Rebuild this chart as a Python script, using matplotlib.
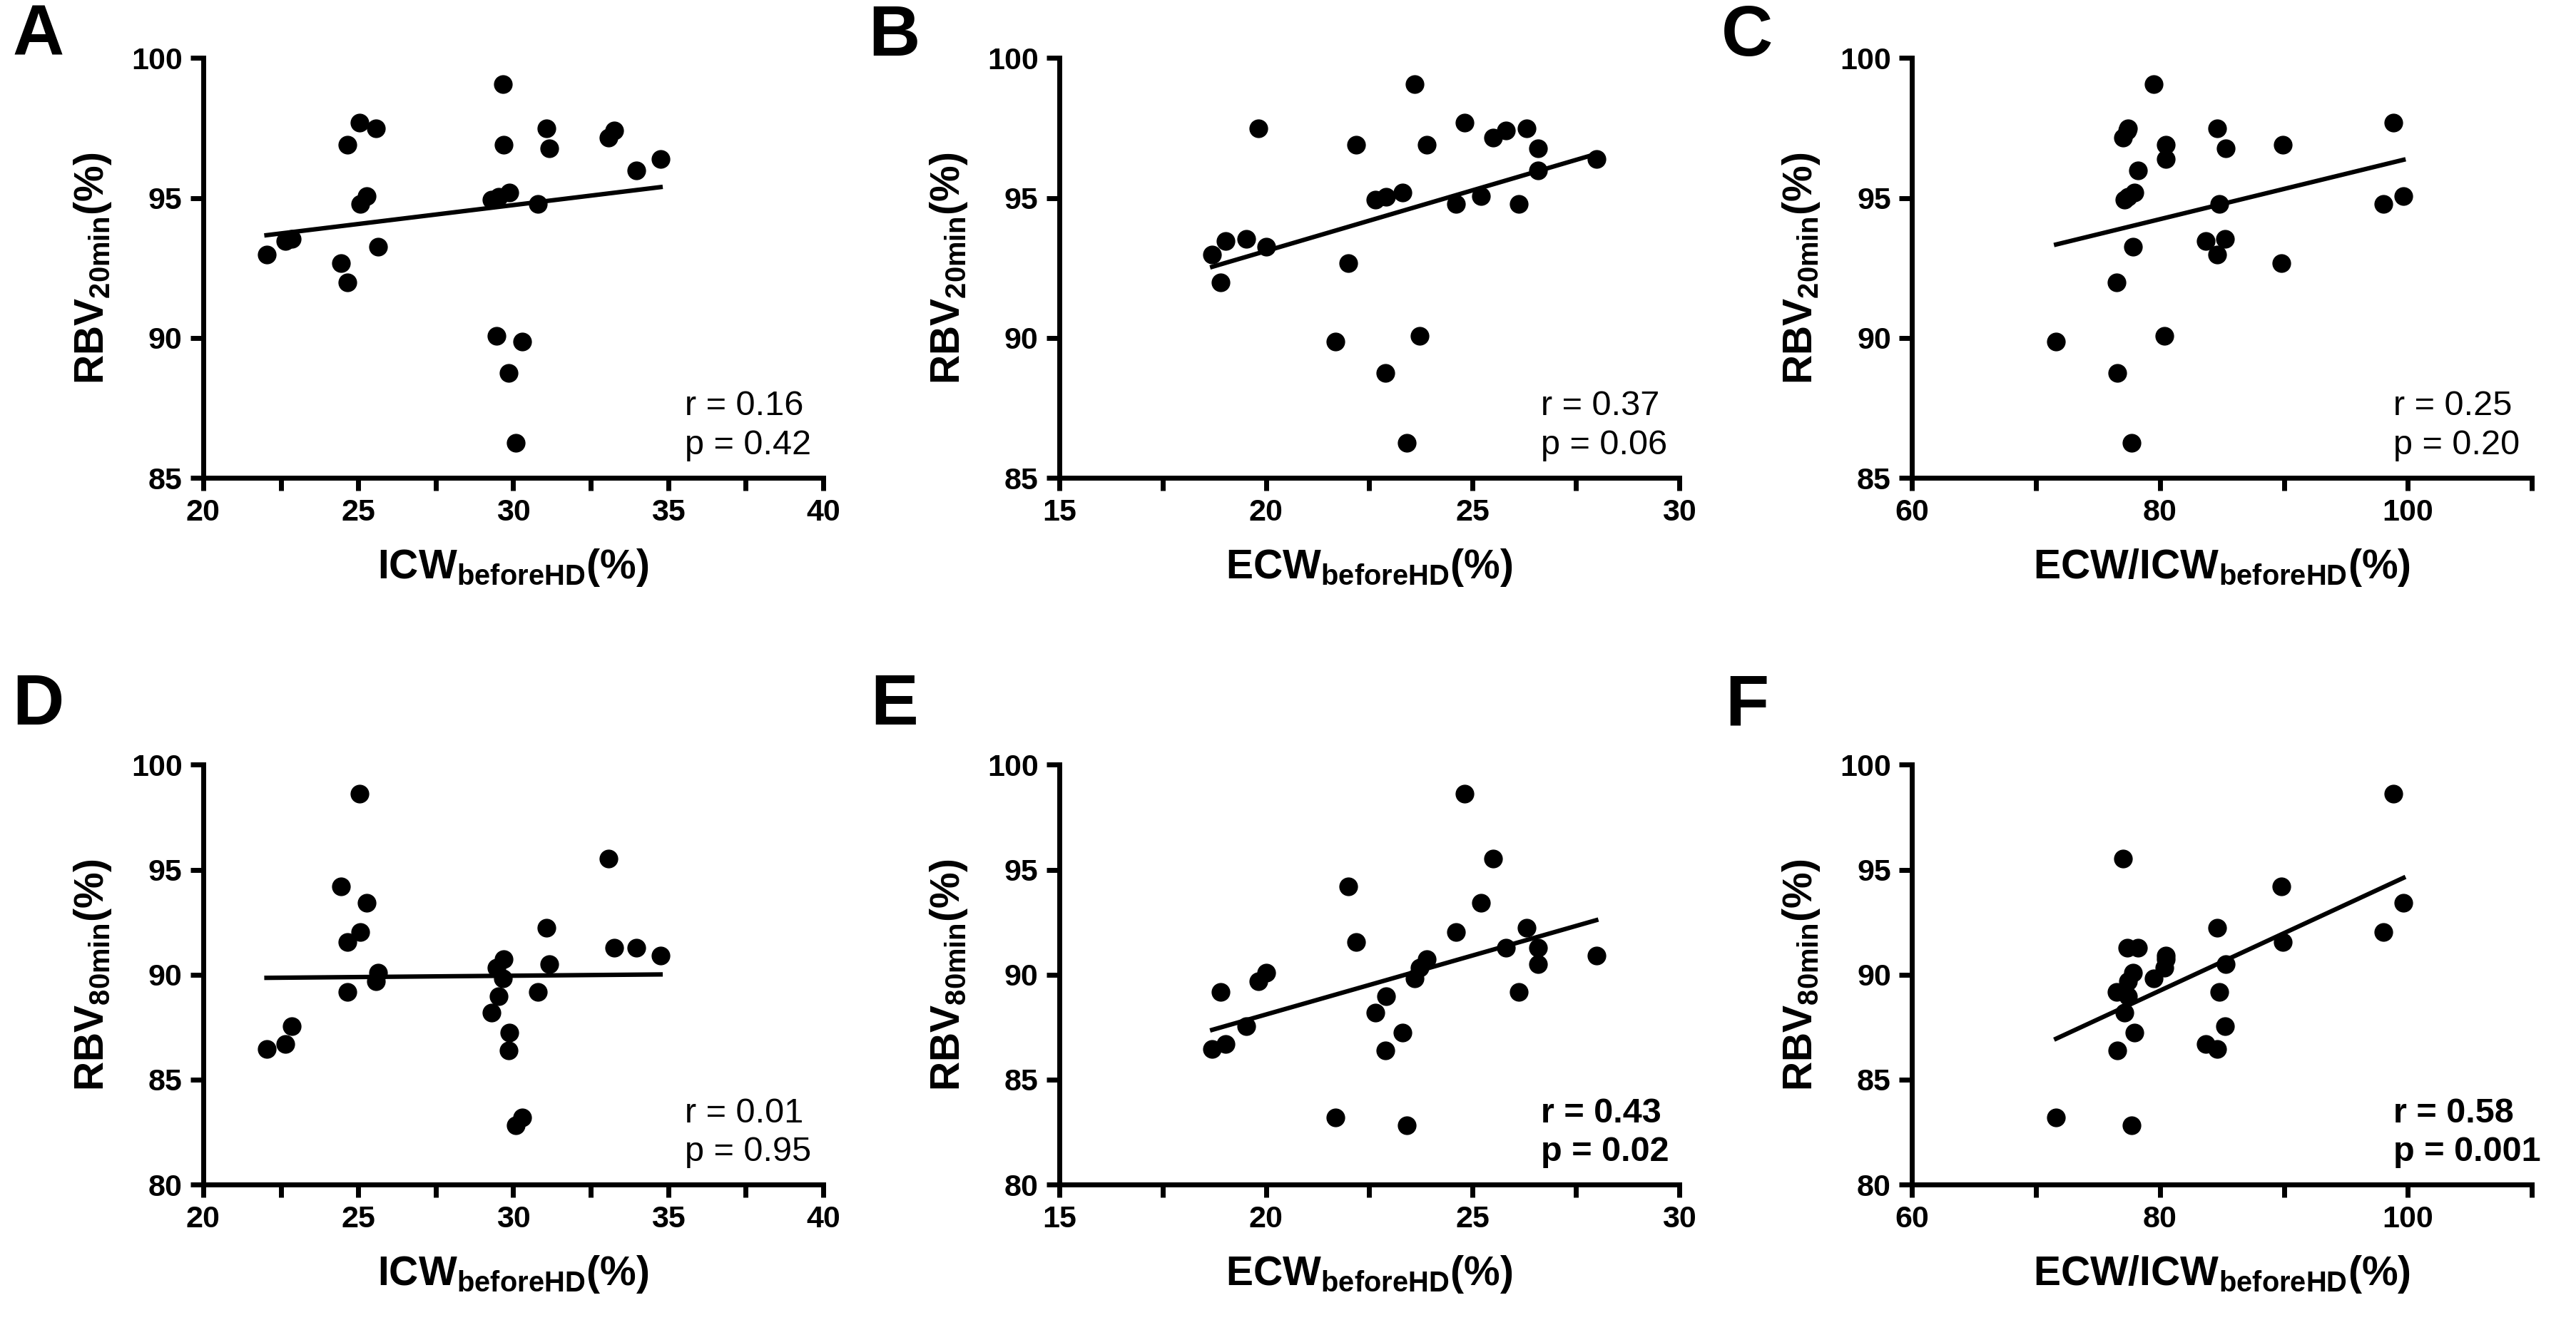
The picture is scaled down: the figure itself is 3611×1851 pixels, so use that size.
import numpy as np
import matplotlib
matplotlib.use('Agg')
import matplotlib.pyplot as plt

# one entry per patient
icw = [22.04, 22.64, 22.85, 24.45, 24.65, 24.65, 25.05, 25.56, 25.07, 25.28,
       25.65, 29.67, 29.68, 29.30, 29.52, 29.88, 29.47, 30.28, 29.86, 30.07,
       30.79, 31.06, 31.16, 33.08, 33.26, 33.96, 34.75]
ecw = [18.70, 19.02, 19.52, 22.00, 18.91, 22.19, 24.81, 19.81, 24.60, 25.21,
       20.01, 23.59, 23.89, 22.64, 22.90, 23.31, 23.72, 21.69, 22.89, 23.41,
       26.11, 26.30, 26.59, 25.49, 25.80, 26.59, 27.99]
ratio = [84.63, 83.70, 85.26, 89.80, 76.53, 89.89, 98.84, 77.40, 98.04, 99.64,
         77.82, 79.47, 80.49, 77.15, 77.42, 77.95, 80.36, 71.63, 76.57, 77.73,
         84.77, 84.59, 85.30, 77.00, 77.37, 78.22, 80.45]
rbv20 = [92.97, 93.47, 93.54, 92.68, 91.98, 96.89, 97.68, 97.48, 94.78, 95.07,
         93.27, 99.06, 96.89, 94.95, 95.05, 95.20, 90.08, 89.88, 88.76, 86.26,
         94.78, 97.48, 96.77, 97.16, 97.41, 95.99, 96.38]
rbv80 = [86.47, 86.71, 87.56, 94.19, 89.19, 91.55, 98.61, 89.68, 92.02, 93.41,
         90.08, 89.82, 90.73, 88.19, 88.99, 87.24, 90.32, 83.19, 86.39, 82.84,
         89.19, 92.22, 90.50, 95.52, 91.29, 91.29, 90.91]

stats_r = ['0.16', '0.37', '0.25', '0.01', '0.43', '0.58']
stats_p = ['0.42', '0.06', '0.20', '0.95', '0.02', '0.001']
bold_stats = [False, False, False, False, True, True]
letters = ['A', 'B', 'C', 'D', 'E', 'F']

plt.rcParams['font.family'] = ['Liberation Sans', 'DejaVu Sans']
plt.rcParams['mathtext.fontset'] = 'custom'
plt.rcParams['mathtext.rm'] = 'Liberation Sans'
plt.rcParams['mathtext.bf'] = 'Liberation Sans:bold'

xlab = {'icw': r'ICW$_{\mathbf{beforeHD}}$(%)',
        'ecw': r'ECW$_{\mathbf{beforeHD}}$(%)',
        'ratio': r'ECW/ICW$_{\mathbf{beforeHD}}$(%)'}
xset = {'icw': (icw, (20, 40), [20, 25, 30, 35, 40], 2.5),
        'ecw': (ecw, (15, 30), [15, 20, 25, 30], 2.5),
        'ratio': (ratio, (60, 110), [60, 80, 100], 10)}

fig = plt.figure(figsize=(36.11, 18.51), dpi=100)

lefts = [0.0789, 0.4112, 0.7422]
bottoms = [0.638, 0.1026]
w, h = 0.2407, 0.318

panel = 0
for row in range(2):
    if row == 0:
        yv = rbv20
        ylim = (85, 100)
        ylabel = r'RBV$_{\mathbf{20min}}$(%)'
    else:
        yv = rbv80
        ylim = (80, 100)
        ylabel = r'RBV$_{\mathbf{80min}}$(%)'
    for col, key in enumerate(['icw', 'ecw', 'ratio']):
        xv, xlim, xticks, minor = xset[key]
        ax = fig.add_axes([lefts[col], bottoms[row], w, h])
        ax.scatter(xv, yv, s=320, color='black', zorder=3, clip_on=False)

        # least squares line over the observed x range
        k, b = np.polyfit(xv, yv, 1)
        xx = np.array([min(xv), max(xv)])
        ax.plot(xx, k * xx + b, color='black', lw=4.5, zorder=2)

        ax.set_xlim(xlim)
        ax.set_ylim(ylim)
        ax.set_xticks(xticks)
        ax.set_xticks(np.arange(xlim[0], xlim[1] + 0.01, minor), minor=True)
        ax.set_yticks(np.arange(ylim[0], ylim[1] + 1, 5))
        for s in ['top', 'right']:
            ax.spines[s].set_visible(False)
        for s in ['left', 'bottom']:
            ax.spines[s].set_linewidth(5)
        ax.tick_params(which='both', direction='out', length=13, width=5,
                       labelsize=31, pad=8)
        for t in ax.get_xticklabels() + ax.get_yticklabels():
            t.set_fontweight('bold')

        ax.set_xlabel(xlab[key], fontsize=41, fontweight='bold', labelpad=20)
        ax.set_ylabel(ylabel, fontsize=41, fontweight='bold', labelpad=18)

        fw = 'bold' if bold_stats[panel] else 'normal'
        ax.text(0.777, 0.17, 'r = ' + stats_r[panel], transform=ax.transAxes,
                fontsize=35, fontweight=fw, va='center', ha='left')
        ax.text(0.777, 0.078, 'p = ' + stats_p[panel], transform=ax.transAxes,
                fontsize=35, fontweight=fw, va='center', ha='left')

        if row == 0:
            ly = 0.972
        else:
            ly = 0.465
        fig.text(lefts[col] - 0.064, ly, letters[panel], fontsize=72,
                 fontweight='bold', ha='center', va='center')
        panel += 1

fig.savefig('out.png', dpi=100)
